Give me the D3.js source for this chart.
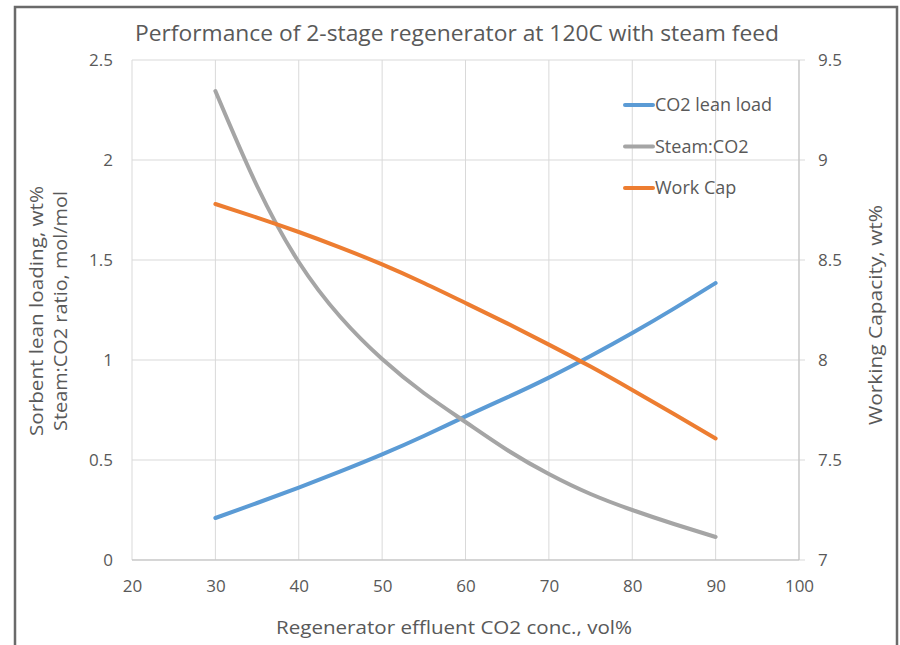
<!DOCTYPE html>
<html>
<head>
<meta charset="utf-8">
<script src="https://cdn.jsdelivr.net/npm/d3@7"></script>
<style>
  body { margin: 0; background: #fff; }
  svg text { font-family: 'Open Sans', 'Noto Sans', sans-serif; fill: #595959; }
</style>
</head>
<body>
<svg id="chart"></svg>
<script>
const width = 900
const height = 645

// data
const conc = [30, 35, 40, 45, 50, 55, 60, 65, 70, 75, 80, 85, 90]
const leanLoad = [0.21, 0.285, 0.362, 0.443, 0.528, 0.62, 0.718, 0.813, 0.912, 1.02, 1.135, 1.257, 1.385]
const steamCO2 = [2.345, 1.87, 1.49, 1.215, 1.005, 0.835, 0.69, 0.55, 0.43, 0.33, 0.25, 0.18, 0.115]
const workCap = [8.78, 8.712, 8.64, 8.562, 8.478, 8.385, 8.285, 8.183, 8.077, 7.967, 7.85, 7.73, 7.608]

const xTicks = [20, 30, 40, 50, 60, 70, 80, 90, 100]
const leftTicks = [0, 0.5, 1, 1.5, 2, 2.5]
const rightTicks = [7, 7.5, 8, 8.5, 9, 9.5]

const series = [
  { name: 'CO2 lean load', values: leanLoad, axis: 'left', color: '#5b9bd5' },
  { name: 'Steam:CO2', values: steamCO2, axis: 'left', color: '#a5a5a5' },
  { name: 'Work Cap', values: workCap, axis: 'right', color: '#ed7d31' },
]

const svg = d3.select('#chart').attr('width', width).attr('height', height)

// chart frame
svg.append('path')
  .attr('d', 'M15,645 V7 H897 V645')
  .attr('fill', 'none')
  .attr('stroke', '#6a6a6a')
  .attr('stroke-width', 2.5)

const plot = { left: 132, right: 799, top: 60, bottom: 560 }

const x = d3.scaleLinear().domain([20, 100]).range([plot.left, plot.right])
const yL = d3.scaleLinear().domain([0, 2.5]).range([plot.bottom, plot.top])
const yR = d3.scaleLinear().domain([7, 9.5]).range([plot.bottom, plot.top])

// grid
svg.append('g')
  .selectAll('line')
  .data(xTicks)
  .join('line')
  .attr('x1', d => x(d)).attr('x2', d => x(d))
  .attr('y1', plot.top).attr('y2', plot.bottom)
  .attr('stroke', '#d9d9d9')
  .attr('stroke-width', 1)

svg.append('g')
  .selectAll('line')
  .data(leftTicks)
  .join('line')
  .attr('x1', plot.left).attr('x2', plot.right + 6)
  .attr('y1', d => yL(d)).attr('y2', d => yL(d))
  .attr('stroke', '#d9d9d9')
  .attr('stroke-width', 1)

// bottom and right axis lines
svg.append('line')
  .attr('x1', plot.left).attr('x2', plot.right)
  .attr('y1', plot.bottom).attr('y2', plot.bottom)
  .attr('stroke', '#bfbfbf')
svg.append('line')
  .attr('x1', plot.right).attr('x2', plot.right)
  .attr('y1', plot.top).attr('y2', plot.bottom)
  .attr('stroke', '#bfbfbf')

// axes (labels only)
const xAxis = svg.append('g')
  .attr('transform', `translate(0,${plot.bottom})`)
  .call(d3.axisBottom(x).tickValues(xTicks).tickSize(0).tickPadding(20))
const lAxis = svg.append('g')
  .attr('transform', `translate(${plot.left},0)`)
  .call(d3.axisLeft(yL).tickValues(leftTicks).tickSize(0).tickPadding(19).tickFormat(d3.format('')))
const rAxis = svg.append('g')
  .attr('transform', `translate(${plot.right},0)`)
  .call(d3.axisRight(yR).tickValues(rightTicks).tickSize(0).tickPadding(19).tickFormat(d3.format('')))

;[xAxis, lAxis, rAxis].forEach(g => {
  g.select('.domain').remove()
  g.selectAll('text')
    .attr('font-size', 17)
    .style('font-family', "'Open Sans', sans-serif")
    .attr('fill', '#595959')
})

// lines
const line = d3.line().curve(d3.curveNatural)

svg.append('g')
  .selectAll('path')
  .data(series)
  .join('path')
  .attr('d', s => {
    const yScale = s.axis === 'left' ? yL : yR
    return line(conc.map((c, i) => [x(c), yScale(s.values[i])]))
  })
  .attr('fill', 'none')
  .attr('stroke', s => s.color)
  .attr('stroke-width', 4)
  .attr('stroke-linecap', 'round')

// legend
const legend = svg.append('g')
  .selectAll('g')
  .data(series)
  .join('g')
  .attr('transform', (d, i) => `translate(625,${105 + i * 41.5})`)
legend.append('line')
  .attr('x1', 0).attr('x2', 28)
  .attr('stroke', d => d.color)
  .attr('stroke-width', 4)
  .attr('stroke-linecap', 'round')
legend.append('text')
  .attr('x', 30)
  .attr('dy', '0.35em')
  .attr('font-size', 18)
  .text(d => d.name)

// title
svg.append('text')
  .attr('x', 457)
  .attr('y', 41)
  .attr('text-anchor', 'middle')
  .attr('font-size', 21)
  .attr('textLength', 644)
  .attr('lengthAdjust', 'spacingAndGlyphs')
  .text('Performance of 2-stage regenerator at 120C with steam feed')

// axis titles
svg.append('text')
  .attr('x', 454)
  .attr('y', 634)
  .attr('text-anchor', 'middle')
  .attr('font-size', 18)
  .attr('textLength', 356)
  .attr('lengthAdjust', 'spacingAndGlyphs')
  .text('Regenerator effluent CO2 conc., vol%')

const leftTitle = svg.append('g').attr('transform', 'translate(0,311) rotate(-90)')
leftTitle.append('text')
  .attr('x', 0).attr('y', 43)
  .attr('text-anchor', 'middle')
  .attr('font-size', 18)
  .attr('textLength', 250)
  .attr('lengthAdjust', 'spacingAndGlyphs')
  .text('Sorbent lean loading, wt%')
leftTitle.append('text')
  .attr('x', 0).attr('y', 67)
  .attr('text-anchor', 'middle')
  .attr('font-size', 18)
  .attr('textLength', 240)
  .attr('lengthAdjust', 'spacingAndGlyphs')
  .text('Steam:CO2 ratio, mol/mol')

svg.append('text')
  .attr('transform', 'translate(882,315) rotate(-90)')
  .attr('text-anchor', 'middle')
  .attr('font-size', 18)
  .attr('textLength', 220)
  .attr('lengthAdjust', 'spacingAndGlyphs')
  .text('Working Capacity, wt%')
</script>
</body>
</html>
